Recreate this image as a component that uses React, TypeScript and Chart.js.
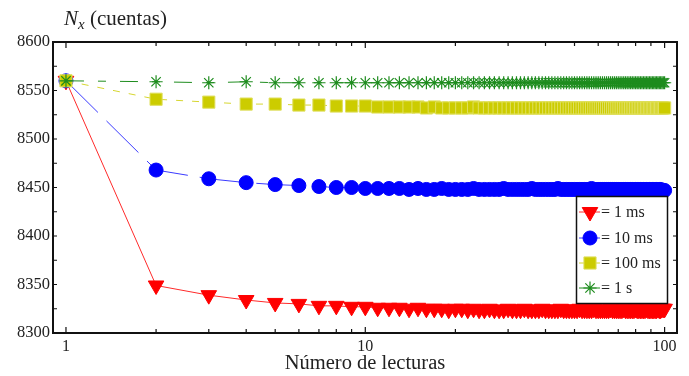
import React, { useEffect, useRef } from 'react';
import { Chart, registerables } from 'chart.js';

Chart.register(...registerables);

const lecturas = [
  1, 2, 3, 4, 5, 6, 7, 8, 9, 10,
  11, 12, 13, 14, 15, 16, 17, 18, 19, 20,
  21, 22, 23, 24, 25, 26, 27, 28, 29, 30,
  31, 32, 33, 34, 35, 36, 37, 38, 39, 40,
  41, 42, 43, 44, 45, 46, 47, 48, 49, 50,
  51, 52, 53, 54, 55, 56, 57, 58, 59, 60,
  61, 62, 63, 64, 65, 66, 67, 68, 69, 70,
  71, 72, 73, 74, 75, 76, 77, 78, 79, 80,
  81, 82, 83, 84, 85, 86, 87, 88, 89, 90,
  91, 92, 93, 94, 95, 96, 97, 98, 99, 100,
];

const cuentas1ms = [
  8560, 8349, 8339, 8334, 8331, 8330, 8328, 8328, 8327, 8327,
  8326, 8326, 8326, 8325, 8326, 8325, 8325, 8325, 8324, 8325,
  8325, 8324, 8325, 8324, 8324, 8325, 8324, 8324, 8324, 8325,
  8324, 8324, 8324, 8325, 8324, 8324, 8324, 8324, 8325, 8324,
  8324, 8324, 8324, 8324, 8325, 8324, 8324, 8324, 8324, 8324,
  8324, 8325, 8324, 8324, 8324, 8324, 8324, 8325, 8324, 8324,
  8324, 8324, 8324, 8324, 8324, 8325, 8324, 8324, 8324, 8324,
  8324, 8324, 8325, 8324, 8324, 8324, 8324, 8324, 8324, 8325,
  8324, 8324, 8324, 8324, 8324, 8324, 8325, 8324, 8324, 8324,
  8324, 8324, 8324, 8324, 8325, 8324, 8324, 8325, 8325, 8325,
];

const cuentas10ms = [
  8560, 8468, 8459, 8455, 8453, 8452, 8451, 8450, 8450, 8449,
  8449, 8449, 8449, 8448, 8449, 8448, 8448, 8449, 8448, 8448,
  8448, 8448, 8449, 8448, 8448, 8448, 8448, 8448, 8449, 8448,
  8448, 8448, 8448, 8448, 8448, 8449, 8448, 8448, 8448, 8448,
  8448, 8448, 8448, 8449, 8448, 8448, 8448, 8448, 8448, 8448,
  8448, 8448, 8448, 8448, 8448, 8448, 8449, 8448, 8448, 8448,
  8448, 8448, 8448, 8448, 8448, 8448, 8448, 8448, 8448, 8448,
  8448, 8448, 8448, 8448, 8448, 8448, 8448, 8448, 8448, 8448,
  8448, 8448, 8448, 8448, 8448, 8448, 8448, 8448, 8448, 8448,
  8448, 8448, 8448, 8448, 8448, 8448, 8448, 8447, 8447, 8447,
];

const cuentas100ms = [
  8560, 8541, 8538, 8536, 8536, 8535, 8535, 8534, 8534, 8534,
  8533, 8533, 8533, 8533, 8533, 8532, 8533, 8532, 8532, 8532,
  8532, 8532, 8533, 8532, 8532, 8532, 8532, 8532, 8532, 8532,
  8532, 8532, 8532, 8532, 8532, 8532, 8532, 8532, 8532, 8532,
  8532, 8532, 8532, 8532, 8532, 8532, 8532, 8532, 8532, 8532,
  8532, 8532, 8532, 8532, 8532, 8532, 8532, 8532, 8532, 8532,
  8532, 8532, 8532, 8532, 8532, 8532, 8532, 8532, 8532, 8532,
  8532, 8532, 8532, 8532, 8532, 8532, 8532, 8532, 8532, 8532,
  8532, 8532, 8532, 8532, 8532, 8532, 8532, 8532, 8532, 8532,
  8532, 8532, 8532, 8532, 8532, 8532, 8532, 8532, 8532, 8532,
];

const cuentas1s = [
  8560, 8559, 8558, 8559, 8558, 8558, 8558, 8558, 8558, 8558,
  8558, 8558, 8558, 8558, 8558, 8558, 8558, 8558, 8558, 8558,
  8558, 8558, 8558, 8558, 8558, 8558, 8558, 8558, 8558, 8558,
  8558, 8558, 8558, 8558, 8558, 8558, 8558, 8558, 8558, 8558,
  8558, 8558, 8558, 8558, 8558, 8558, 8558, 8558, 8558, 8558,
  8558, 8558, 8558, 8558, 8558, 8558, 8558, 8558, 8558, 8558,
  8558, 8558, 8558, 8558, 8558, 8558, 8558, 8558, 8558, 8558,
  8558, 8558, 8558, 8558, 8558, 8558, 8558, 8558, 8558, 8558,
  8558, 8558, 8558, 8558, 8558, 8558, 8558, 8558, 8558, 8558,
  8558, 8558, 8558, 8558, 8558, 8558, 8558, 8558, 8558, 8558,
];

const seriesLabels = ['= 1 ms', '= 10 ms', '= 100 ms', '= 1 s'];
const xTickLabels = [1, 10, 100];
const yTickValues = [8300, 8350, 8400, 8450, 8500, 8550, 8600];
const xTitle = 'Número de lecturas';
const yTitleVar = 'N';
const yTitleSub = 'x';
const yTitleRest = ' (cuentas)';

const FONT = '"Liberation Serif", "Times New Roman", serif';

type Style = {
  shape: string;
  fill: string;
  stroke: string;
  line: string;
  dash: number[];
  r: number;
};

const styles: Style[] = [
  { shape: 'triDown', fill: '#ff0000', stroke: '#ff0000', line: '#ff2a2a', dash: [], r: 9 },
  { shape: 'circle', fill: '#0000ff', stroke: '#0000ff', line: '#3a3aff', dash: [45, 12], r: 7 },
  { shape: 'rect', fill: '#cccc00', stroke: '#e0e060', line: '#d6d630', dash: [7, 9], r: 8.6 },
  { shape: 'star', fill: '#1e8c1e', stroke: '#1e8c1e', line: '#1e8c1e', dash: [18, 14, 8, 14], r: 6.6 },
];

function drawMarker(ctx: CanvasRenderingContext2D, s: Style, x: number, y: number) {
  ctx.save();
  ctx.fillStyle = s.fill;
  ctx.strokeStyle = s.stroke;
  ctx.setLineDash([]);
  ctx.lineWidth = 1;
  ctx.beginPath();
  if (s.shape === 'triDown') {
    const r = s.r;
    ctx.moveTo(x, y + r);
    ctx.lineTo(x - r * 0.866, y - r * 0.5);
    ctx.lineTo(x + r * 0.866, y - r * 0.5);
    ctx.closePath();
    ctx.fill();
    ctx.stroke();
  } else if (s.shape === 'circle') {
    ctx.arc(x, y, s.r, 0, Math.PI * 2);
    ctx.fill();
    ctx.stroke();
  } else if (s.shape === 'rect') {
    const h = s.r * Math.SQRT1_2;
    ctx.rect(x - h, y - h, 2 * h, 2 * h);
    ctx.fill();
    ctx.stroke();
  } else {
    const r = s.r;
    ctx.lineWidth = 1.2;
    ctx.moveTo(x - r, y);
    ctx.lineTo(x + r, y);
    ctx.moveTo(x, y - r);
    ctx.lineTo(x, y + r);
    const d = r * Math.SQRT1_2;
    ctx.moveTo(x - d, y - d);
    ctx.lineTo(x + d, y + d);
    ctx.moveTo(x - d, y + d);
    ctx.lineTo(x + d, y - d);
    ctx.stroke();
  }
  ctx.restore();
}

const framePlugin = {
  id: 'frameAndDecor',
  afterDatasetsDraw(chart: any) {
    const ctx: CanvasRenderingContext2D = chart.ctx;
    const { left, right, top, bottom } = chart.chartArea;
    const xs = chart.scales.x;
    const ys = chart.scales.y;
    ctx.save();
    ctx.strokeStyle = '#111';
    ctx.setLineDash([]);
    // ticks
    ctx.lineWidth = 1.2;
    ctx.beginPath();
    for (let dec = 1; dec <= 100; dec *= 10) {
      for (let m = 1; m <= 9; m++) {
        const v = dec * m;
        if (v > 100) break;
        const px = xs.getPixelForValue(v);
        const len = m === 1 ? 6 : 4;
        ctx.moveTo(px, bottom);
        ctx.lineTo(px, bottom - len);
        ctx.moveTo(px, top);
        ctx.lineTo(px, top + len);
      }
    }
    for (let v = 8300; v <= 8600; v += 25) {
      const py = ys.getPixelForValue(v);
      ctx.moveTo(left, py);
      ctx.lineTo(left + 4, py);
      ctx.moveTo(right, py);
      ctx.lineTo(right - 4, py);
    }
    ctx.stroke();
    // frame
    ctx.lineWidth = 2;
    ctx.strokeRect(left, top, right - left, bottom - top);

    // legend
    const lx = 576, ly = 196, lw = 91, lh = 107;
    ctx.fillStyle = '#fff';
    ctx.fillRect(lx, ly, lw, lh);
    ctx.lineWidth = 1.5;
    ctx.strokeStyle = '#111';
    ctx.strokeRect(lx + 0.5, ly + 0.5, lw, lh);
    const rowsY = [212, 238, 263, 288];
    ctx.font = '16px ' + FONT;
    ctx.textBaseline = 'middle';
    ctx.textAlign = 'left';
    styles.forEach((s, i) => {
      const y = rowsY[i];
      ctx.strokeStyle = s.line;
      ctx.lineWidth = 1;
      ctx.beginPath();
      ctx.moveTo(579, y);
      ctx.lineTo(600, y);
      ctx.stroke();
      drawMarker(ctx, s, 590, y);
      ctx.fillStyle = '#222';
      ctx.fillText(seriesLabels[i], 601, y + 1);
    });

    // y title
    ctx.fillStyle = '#222';
    ctx.textBaseline = 'alphabetic';
    let tx = 64;
    ctx.font = 'italic 21px ' + FONT;
    ctx.fillText(yTitleVar, tx, 25);
    tx += ctx.measureText(yTitleVar).width;
    ctx.font = 'italic 15px ' + FONT;
    ctx.fillText(yTitleSub, tx, 29);
    tx += ctx.measureText(yTitleSub).width;
    ctx.font = '21px ' + FONT;
    ctx.fillText(yTitleRest, tx, 25);
    ctx.restore();
  },
};

export default function App() {
  const ref = useRef<HTMLCanvasElement | null>(null);
  useEffect(() => {
    if (!ref.current) return;
    const seriesData = [cuentas1ms, cuentas10ms, cuentas100ms, cuentas1s];
    const datasets = seriesData.map((vals, i) => {
      const s = styles[i];
      return {
        label: seriesLabels[i],
        data: lecturas.map((n, k) => ({ x: n, y: vals[k] })),
        borderColor: s.line,
        borderWidth: 1,
        borderDash: s.dash,
        backgroundColor: s.fill,
        pointStyle: s.shape === 'triDown' ? 'triangle' : s.shape === 'circle' ? 'circle' : s.shape === 'rect' ? 'rect' : 'star',
        pointRotation: s.shape === 'triDown' ? 180 : 0,
        pointRadius: s.r,
        pointBackgroundColor: s.fill,
        pointBorderColor: s.stroke,
        pointBorderWidth: s.shape === 'star' ? 1.2 : 1,
        tension: 0,
        fill: false,
        order: 4 - i,
      };
    });
    const chart = new Chart(ref.current, {
      type: 'line',
      data: { datasets },
      options: {
        animation: false,
        responsive: false,
        clip: false as any,
        layout: { padding: { top: 42, right: 12, left: 0, bottom: 0 } },
        plugins: { legend: { display: false }, tooltip: { enabled: false } },
        scales: {
          x: {
            type: 'logarithmic',
            min: 0.905,
            max: 110,
            grid: { display: false, drawTicks: false, tickLength: 0 },
            border: { display: false },
            afterBuildTicks: (scale: any) => {
              scale.ticks = xTickLabels.map((v) => ({ value: v }));
            },
            afterFit: (scale: any) => {
              scale.height = 43;
            },
            ticks: {
              color: '#222',
              padding: 4,
              font: { family: FONT, size: 16 },
              callback: (v: any) => String(v),
              autoSkip: false,
              maxRotation: 0,
            },
            title: {
              display: true,
              text: xTitle,
              color: '#222',
              font: { family: FONT, size: 20.5 },
              padding: { top: 0, bottom: 0 },
            },
          },
          y: {
            type: 'linear',
            min: 8300,
            max: 8600,
            grid: { display: false, drawTicks: false, tickLength: 0 },
            border: { display: false },
            afterBuildTicks: (scale: any) => {
              scale.ticks = yTickValues.map((v) => ({ value: v }));
            },
            afterFit: (scale: any) => {
              scale.width = 53;
            },
            ticks: {
              color: '#222',
              padding: 3,
              font: { family: FONT, size: 16.5 },
              callback: (v: any) => String(v),
            },
          },
        },
      },
      plugins: [framePlugin],
    });
    return () => chart.destroy();
  }, []);
  return (
    <div style={{ position: 'fixed', left: 0, top: 0, width: 689, height: 376, background: '#fff' }}>
      <canvas ref={ref} width={689} height={376} />
    </div>
  );
}
